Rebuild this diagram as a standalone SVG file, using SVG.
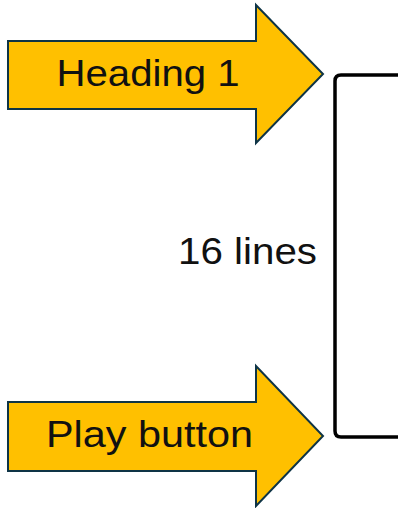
<svg xmlns="http://www.w3.org/2000/svg" width="398" height="508" viewBox="0 0 398 508">
<style>
.arrow{fill:#FFC000;stroke:#0E3446;stroke-width:2;stroke-linejoin:miter}
.lbl{font-family:"Liberation Sans",Arial,sans-serif;font-size:37px;fill:#111}
.br{fill:none;stroke:#000;stroke-width:3.5}
</style>
<rect width="398" height="508" fill="#fff"/>
<g id="heading1">
<polygon class="arrow" points="8,41 256,41 256,5 323,74 256,143 256,109 8,109"/>
<text class="lbl" x="148" y="86" text-anchor="middle" textLength="183" lengthAdjust="spacingAndGlyphs">Heading 1</text>
</g>
<g id="playbutton">
<polygon class="arrow" points="8,402 256,402 256,366 323,436 256,506 256,471 8,471"/>
<text class="lbl" x="149.5" y="447" text-anchor="middle" textLength="207" lengthAdjust="spacingAndGlyphs">Play button</text>
</g>
<g id="connectors">
<path class="br" d="M398,75 H341 Q335,75 335,81 V431 Q335,437 341,437 H398"/>
</g>
<g id="label">
<text class="lbl" x="178" y="264" textLength="139" lengthAdjust="spacingAndGlyphs">16 lines</text>
</g>
</svg>
